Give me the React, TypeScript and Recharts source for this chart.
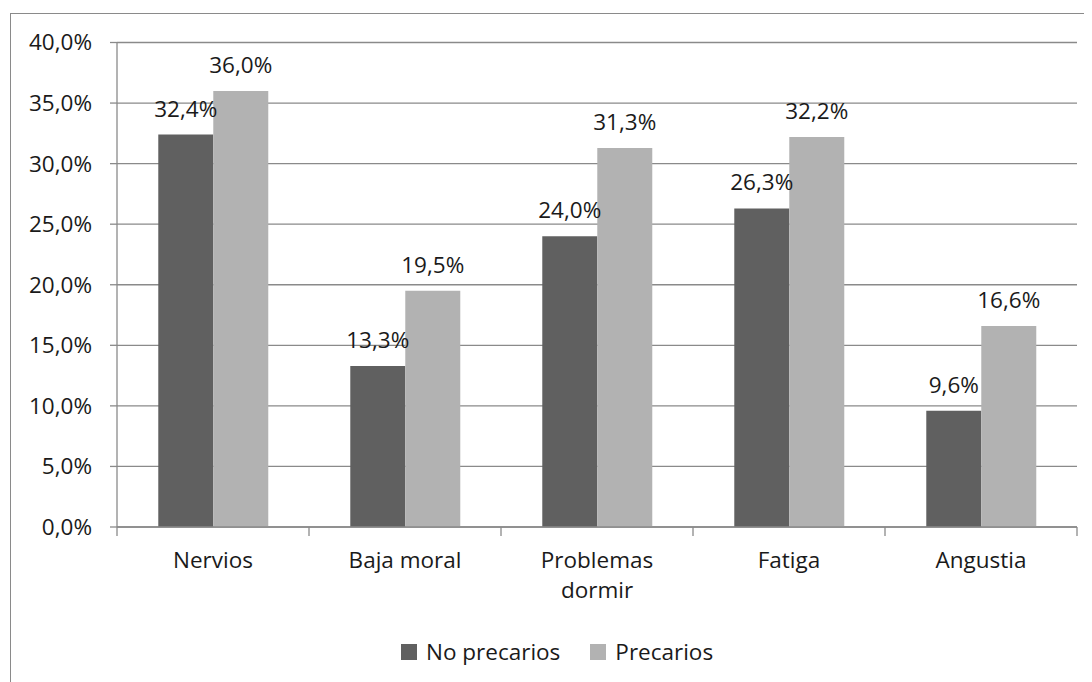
import React from 'react';
import { BarChart, Bar, XAxis, YAxis, CartesianGrid, Legend, LabelList } from 'recharts';

const categories = ['Nervios', 'Baja moral', 'Problemas dormir', 'Fatiga', 'Angustia'];
const noPrecarios = [32.4, 13.3, 24.0, 26.3, 9.6];
const precarios = [36.0, 19.5, 31.3, 32.2, 16.6];
const yTicks = [0, 5, 10, 15, 20, 25, 30, 35, 40];

const chartData = categories.map((name, i) => ({
  name,
  noPrecarios: noPrecarios[i],
  precarios: precarios[i],
}));

const FONT = '"Open Sans", sans-serif';
const FONT_SIZE = 22.5;
const AXIS_GRAY = '#8a8a8a';
const DARK = '#606060';
const LIGHT = '#b2b2b2';
const TICK_MARGIN = 25;

const pct = (v: number) => `${v.toFixed(1).replace('.', ',')}%`;

// long labels wrap onto two lines, like the spreadsheet does
const splitLabel = (s: string) => (s.length > 12 ? s.split(' ') : [s]);

const CategoryTick = (props: any) => {
  const { x, y, payload, width, visibleTicksCount, index } = props;
  const band = width / visibleTicksCount;
  const axisY = y - TICK_MARGIN;
  const lines = splitLabel(String(payload.value));
  const isLast = index === visibleTicksCount - 1;
  return (
    <g>
      <line x1={x - band / 2} x2={x - band / 2} y1={axisY} y2={axisY + 9} stroke={AXIS_GRAY} strokeWidth={1.3} />
      {isLast && (
        <line x1={x + band / 2} x2={x + band / 2} y1={axisY} y2={axisY + 9} stroke={AXIS_GRAY} strokeWidth={1.3} />
      )}
      <text x={x} y={y} textAnchor="middle" fontSize={FONT_SIZE} fontFamily={FONT} fill="#1a1a1a">
        {lines.map((l, i) => (
          <tspan key={i} x={x} dy={i === 0 ? '0.72em' : 30}>
            {l}
          </tspan>
        ))}
      </text>
    </g>
  );
};

const LegendContent = () => {
  const items = [
    { label: 'No precarios', color: DARK },
    { label: 'Precarios', color: LIGHT },
  ];
  return (
    <div style={{ display: 'flex', alignItems: 'center', fontFamily: FONT, fontSize: FONT_SIZE, color: '#1a1a1a' }}>
      {items.map((it, i) => (
        <div key={it.label} style={{ display: 'flex', alignItems: 'center', marginRight: i === 0 ? 30 : 0 }}>
          <span style={{ display: 'inline-block', width: 16, height: 16, background: it.color, marginRight: 9 }} />
          <span>{it.label}</span>
        </div>
      ))}
    </div>
  );
};

const App: React.FC = () => {
  return (
    <div style={{ position: 'relative', width: 1084, height: 674, background: '#fff' }}>
      <div
        style={{
          position: 'absolute',
          left: 2,
          top: 5,
          right: 0,
          bottom: 0,
          borderLeft: `1.5px solid ${AXIS_GRAY}`,
          borderTop: `1.5px solid ${AXIS_GRAY}`,
        }}
      />
      <BarChart
        width={1084}
        height={674}
        data={chartData}
        margin={{ top: 34.5, right: 15, left: 0, bottom: 95 }}
        barCategoryGap="21.5%"
        barGap={0}
        style={{ position: 'absolute', left: 0, top: 0 }}
      >
        <CartesianGrid vertical={false} stroke={AXIS_GRAY} strokeWidth={1.3} />
        <XAxis
          dataKey="name"
          height={60}
          axisLine={{ stroke: AXIS_GRAY, strokeWidth: 1.3 }}
          tickLine={false}
          tickSize={0}
          tickMargin={TICK_MARGIN}
          interval={0}
          tick={<CategoryTick />}
        />
        <YAxis
          width={109}
          domain={[0, 40]}
          ticks={yTicks}
          tickFormatter={pct}
          tickSize={7}
          tickMargin={18}
          tick={{ fontSize: FONT_SIZE, fontFamily: FONT, fill: '#1a1a1a' }}
          tickLine={{ stroke: AXIS_GRAY, strokeWidth: 1.3 }}
          axisLine={{ stroke: AXIS_GRAY, strokeWidth: 1.3 }}
        />
        <Legend
          layout="horizontal"
          verticalAlign="middle"
          align="center"
          content={<LegendContent />}
          wrapperStyle={{ position: 'absolute', left: 393, top: 628, width: 'auto' }}
        />
        <Bar dataKey="noPrecarios" name="No precarios" fill={DARK} isAnimationActive={false}>
          <LabelList
            dataKey="noPrecarios"
            position="top"
            offset={18}
            formatter={(v: any) => pct(Number(v))}
            style={{ fontSize: FONT_SIZE, fontFamily: FONT, fill: '#1a1a1a' }}
          />
        </Bar>
        <Bar dataKey="precarios" name="Precarios" fill={LIGHT} isAnimationActive={false}>
          <LabelList
            dataKey="precarios"
            position="top"
            offset={18}
            formatter={(v: any) => pct(Number(v))}
            style={{ fontSize: FONT_SIZE, fontFamily: FONT, fill: '#1a1a1a' }}
          />
        </Bar>
      </BarChart>
    </div>
  );
};

export default App;
